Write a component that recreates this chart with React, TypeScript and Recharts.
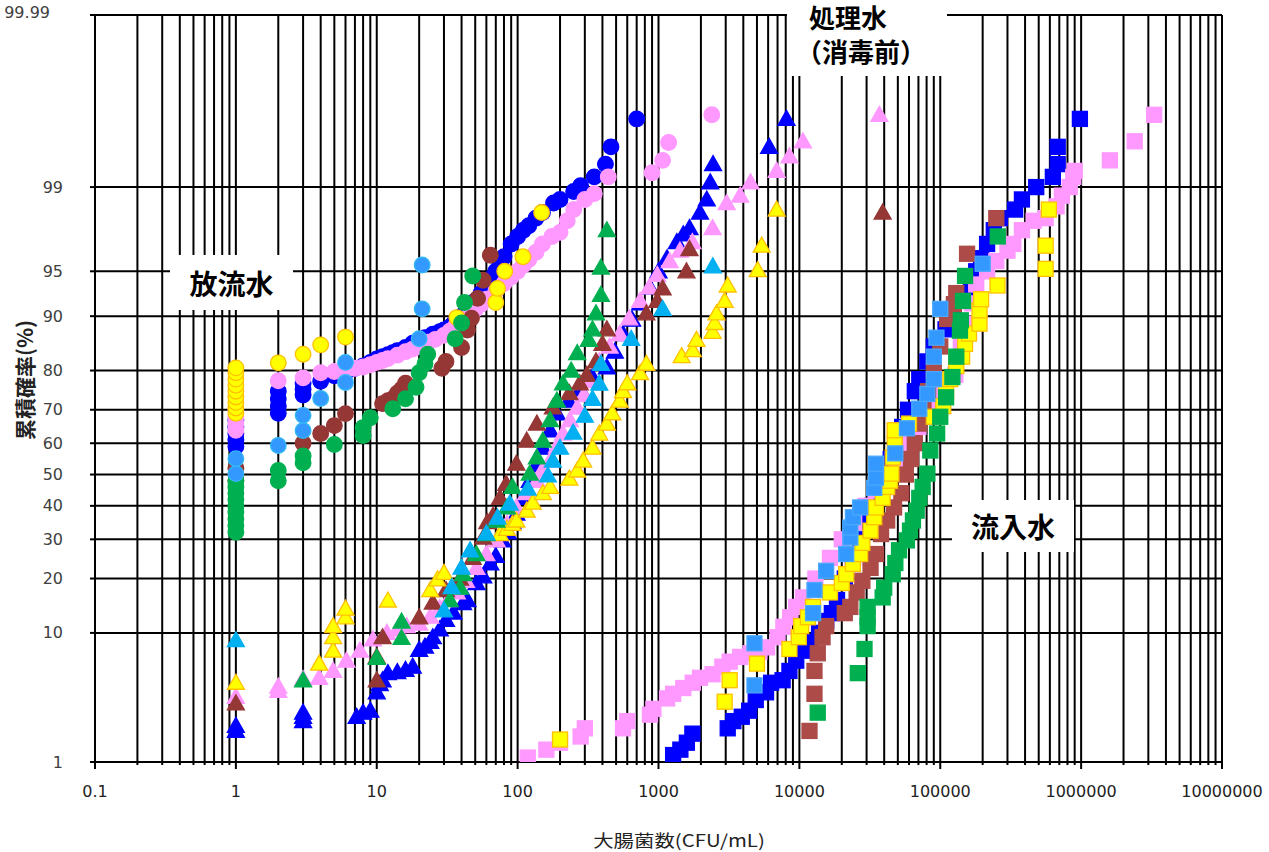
import React from "react";
import { ScatterChart, Scatter, XAxis, YAxis, CartesianGrid } from "recharts";

// each point: [CFU/mL, cumulative probability %]
type Pt = [number, number];

// ---- Axis ticks ----
const xMajorTicks = [0.1, 1, 10, 100, 1000, 10000, 100000, 1000000, 10000000];
const xMajorLabels = ["0.1", "1", "10", "100", "1000", "10000", "100000", "1000000", "10000000"];
const xMinorSteps = [1, 2, 3, 4, 5, 6, 7, 8, 9];
const yTickPercents = [1, 10, 20, 30, 40, 50, 60, 70, 80, 90, 95, 99, 99.99];
const yTickLabels = ["1", "10", "20", "30", "40", "50", "60", "70", "80", "90", "95", "99", "99.99"];

// ---- 放流水 (circles) ----
const effluentBlue: Pt[] = [
  [1, 59], [1, 61], [1, 63], [1, 65], [1, 67],
  [2, 69], [2, 71], [2, 73], [2, 75],
  [3, 74], [3, 75.5], [3, 77],
  [4, 77.5], [5, 78.8], [6, 79.5], [7, 80.5], [8, 81], [9, 81.8], [10, 82.5], [11, 83], [12, 83.4],
  [13, 83.8], [14, 84.2], [16, 84.8], [18, 85.6], [20, 86.2], [22, 86.6], [25, 87.2], [28, 87.6],
  [30, 87.9], [33, 88.4], [35, 88.9], [38, 89.5], [40, 90], [43, 90.6], [45, 91.1], [48, 91.6],
  [50, 92], [55, 92.9], [60, 93.7], [65, 94.4], [70, 95], [75, 95.6], [80, 96.1], [90, 96.9],
  [100, 97.3], [110, 97.6], [120, 97.8], [135, 98.1], [150, 98.3], [180, 98.6], [200, 98.7],
  [250, 98.9], [280, 99.03], [350, 99.2], [420, 99.4], [460, 99.6], [700, 99.8],
];
const effluentPink: Pt[] = [
  [1, 64], [1, 66], [1, 68], [1, 70], [2, 77.6], [3, 78.3], [4, 79.5], [5, 79.8],
  [6, 80], [7, 80.5], [8, 80.8], [9, 81.3], [10, 81.8], [11, 82.2], [12, 82.6], [14, 83.3],
  [16, 84], [18, 84.5], [20, 85], [23, 85.8], [26, 86.3], [30, 87], [33, 87.7], [36, 88.4],
  [40, 89], [45, 90], [50, 90.9], [55, 91.6], [60, 92.2], [70, 93.1], [80, 93.9], [90, 94.5],
  [100, 95], [110, 95.5], [120, 95.9], [135, 96.4], [150, 96.9], [175, 97.3], [200, 97.5],
  [225, 98], [250, 98.4], [300, 98.7], [350, 98.85], [440, 99.2],
  [900, 99.27], [1070, 99.45], [1180, 99.64], [2390, 99.82],
];
const effluentBrown: Pt[] = [
  [1, 48], [1, 50], [1, 52], [3, 60], [4, 63], [5, 65.4], [6, 68.9], [11, 71.7], [12, 72.5],
  [13, 73], [14, 74.5], [15, 75.5], [16, 77], [29, 80.5], [31, 82], [40, 84.8], [44, 87.9],
  [47, 89.7], [52, 92.3], [57, 94.2], [64, 96.2],
];
const effluentYellow: Pt[] = [
  [1, 69], [1, 70.5], [1, 72], [1, 73.5], [1, 75], [1, 76.5], [1, 78], [1, 79.5], [1, 80.6],
  [2, 81.7], [3, 83.5], [4, 85.3], [6, 86.7], [37, 89.8], [70, 91.8], [72, 93.4], [81, 95],
  [109, 96.1], [148, 98.3],
];
const effluentGreen: Pt[] = [
  [1, 32], [1, 34], [1, 36], [1, 38], [1, 40], [1, 42], [1, 44], [1, 46], [1, 48],
  [2, 48], [2, 51.3], [3, 53.8], [3, 56], [5, 59.6], [8, 62.4], [8, 64.8], [9, 67.7], [13, 70.3],
  [16, 73], [19, 76], [20, 79.5], [22, 81.5], [23, 83.5], [36, 86.4], [40, 89], [42, 91.8], [48, 94.6],
];
const effluentLightBlue: Pt[] = [
  [1, 50.3], [1, 55.1], [2, 59.3], [3, 63.9], [3, 68.4], [4, 73.1], [6, 77.2], [6, 81.8],
  [20, 86.4], [21, 91], [21, 95.5],
];

// ---- 処理水（消毒前） (triangles) ----
const treatedBlue: Pt[] = [
  [1, 1.9], [1, 2.1], [3, 2.3], [3, 2.5], [3, 2.7],
  [7.2, 2.5], [8, 2.7], [9, 2.8], [10, 3.9], [10.5, 4.5], [11, 4.8], [12, 5.4], [14, 5.5], [16, 5.7],
  [18, 6], [20, 7.8], [22, 8.2], [24, 8.8], [25, 9.4], [28, 10.5], [31, 12], [35, 13.2], [41, 14.9],
  [44, 15.5], [51, 19], [57, 20.5], [64, 23.6], [70, 25.5], [78, 29.7], [85, 32], [92, 35], [98, 37.6],
  [110, 42.5], [122, 48], [135, 53], [151, 58.6], [170, 64], [190, 69], [230, 72.5], [280, 75.5],
  [340, 78.5], [430, 80.7], [490, 84], [560, 87.2], [650, 89.5], [740, 91.7], [870, 93.5], [1000, 95],
  [1150, 96], [1350, 97], [1500, 97.4], [1660, 97.7], [1970, 98.3], [2200, 98.7], [2330, 99.1],
  [2440, 99.4], [6100, 99.6], [8100, 99.8],
];
const treatedPink: Pt[] = [
  [1, 3.6], [2, 4.0], [2, 4.3], [3, 4.9], [3.9, 5], [4.9, 5.6], [6.1, 6.6], [7.6, 7.7], [9.4, 9.1],
  [11.8, 10], [14, 10.5], [16.3, 11], [20, 11.4], [24, 12.5], [28, 14], [32, 15.5], [37, 17],
  [43, 19.5], [51, 22.5], [60, 26], [71, 29.7], [84, 34.5], [98, 39.5], [115, 44], [137, 48],
  [150, 51.5], [170, 54.5], [190, 59], [210, 63], [235, 67], [265, 70.6], [295, 74], [325, 77.5],
  [380, 82], [450, 85], [530, 87.2], [620, 89.7], [740, 92], [860, 93.5], [980, 94.7], [1200, 95.8],
  [1420, 96.5], [1740, 97], [2420, 97.7], [3050, 98.6], [3800, 98.8], [4500, 99.1],
  [6900, 99.3], [8500, 99.5], [10600, 99.65], [37000, 99.82],
];
const treatedBrown: Pt[] = [
  [1, 3.2], [10, 4.8], [10, 7], [11, 9.4], [20, 12.4], [25, 15], [31, 17.5], [39, 20], [48, 25],
  [57, 30.5], [61, 35], [67, 37], [75, 42.5], [83, 47], [98, 53.5], [116, 60.8], [137, 66],
  [178, 70.7], [233, 74.5], [276, 77], [310, 79], [360, 82], [400, 85.5], [430, 88], [820, 90.4],
  [980, 92], [1070, 93.4], [1580, 95], [1660, 96.6], [39000, 98.3],
];
const treatedYellow: Pt[] = [
  [1, 4.6], [3.9, 6.3], [4.9, 7.7], [4.9, 9.4], [4.9, 11], [6, 12.4], [6, 13.9], [12, 15.4],
  [24, 17.5], [27, 19.8], [30, 21.3],
  [75, 31.5], [84, 33], [92, 34.5], [98, 35.5], [116, 38.5], [128, 41], [151, 44], [170, 46],
  [233, 48.7], [265, 51.3], [292, 54.5], [340, 58.6], [380, 63], [430, 66], [470, 69], [530, 72.5],
  [560, 75], [600, 77], [740, 79.4], [820, 81.5], [1460, 83.1], [1750, 84.3], [1860, 86.2],
  [2420, 87.6], [2500, 89], [2580, 90.4], [2950, 92], [3100, 93.7], [5060, 95.1], [5400, 96.8],
  [6900, 98.4],
];
const treatedGreen: Pt[] = [
  [3, 4.8], [10, 6.9], [15, 9.3], [15, 11.7], [33, 15.5], [39, 18], [41, 21], [51, 26], [60, 31.5],
  [71, 35.5], [84, 39.5], [92, 46], [122, 50.3], [137, 55.5], [151, 60.8], [170, 67], [190, 72.5],
  [210, 77], [240, 80], [265, 83.7], [320, 86.2], [340, 88], [360, 90.4], [390, 92.7], [390, 95.3],
  [430, 97.6],
];
const treatedLightBlue: Pt[] = [
  [1, 9], [30, 13.6], [34, 18.1], [40, 22.6], [46, 27], [60, 31.7], [72, 36.4], [88, 40.7],
  [118, 45.5], [164, 49.7], [178, 54.5], [200, 58.6], [248, 63.3], [300, 68.3], [340, 73],
  [380, 76.9], [390, 81.5], [640, 86.4], [1070, 91], [2430, 95.4],
];

// ---- 流入水 (squares) ----
const influentBlue: Pt[] = [
  [1270, 1.16], [1430, 1.3], [1590, 1.5], [1740, 1.8], [3100, 2], [3400, 2.3], [3900, 2.5],
  [4400, 2.8], [4900, 3.4], [5800, 3.9], [6300, 4.6], [7600, 4.8], [8500, 5.6], [9500, 6.6],
  [10600, 7.7], [11800, 8.8], [13800, 10], [15500, 11.8], [17000, 13.1], [18500, 15.5],
  [21000, 20], [24000, 25], [27000, 30], [30000, 35], [33000, 40], [36500, 45], [40000, 50],
  [44500, 55], [49000, 60], [53700, 65], [59000, 70], [66000, 75], [71000, 78], [81000, 82],
  [90000, 85], [109000, 88], [124000, 90], [155000, 92.4], [165000, 93.8], [180000, 95],
  [195000, 96], [215000, 96.9], [240000, 97.6], [265000, 98.1], [340000, 98.4], [380000, 98.7],
  [480000, 99], [630000, 99.2], [682000, 99.4], [682000, 99.6], [980000, 99.8],
];
const influentPink: Pt[] = [
  [118, 1.1], [160, 1.3], [200, 1.5], [280, 1.7], [300, 2], [560, 2], [600, 2.3], [870, 2.6],
  [920, 2.9], [1150, 3.5], [1270, 3.8], [1500, 4.2], [1750, 4.6], [1970, 5], [2420, 5.3],
  [2840, 6], [3200, 6.5], [3800, 7], [4500, 7.4], [5200, 7.6], [5900, 8.1], [7000, 9.4],
  [7700, 10.9], [8600, 12.4], [9500, 14.2], [10600, 16], [13000, 20], [16500, 25], [20000, 30],
  [24500, 35], [29500, 40], [35000, 45], [41000, 50], [49000, 55], [58000, 60], [70000, 65],
  [85000, 70], [105000, 75], [128000, 79], [140000, 85], [155000, 88.9], [168000, 91.7],
  [180000, 93.8], [215000, 95], [250000, 95.8], [300000, 96.5], [330000, 96.9], [380000, 97.6],
  [460000, 98], [560000, 98.1], [670000, 98.5], [730000, 98.8], [830000, 99], [880000, 99.2],
  [900000, 99.3], [1600000, 99.45], [2400000, 99.65], [3300000, 99.82],
];
const influentBrown: Pt[] = [
  [11800, 1.9], [12800, 3.8], [12800, 5.6], [13500, 7.4], [14600, 9.4], [15500, 11], [21000, 13.1],
  [23000, 14.2], [25500, 17], [28000, 19.5], [32000, 22.5], [35000, 26], [38000, 31.5],
  [42000, 35.5], [47000, 39.5], [53000, 44], [57000, 50], [62000, 55], [66000, 60], [71000, 66],
  [76000, 70], [82000, 75], [90000, 80], [100000, 85], [112000, 89.6], [125000, 91.6],
  [130000, 92.9], [155000, 96.3], [250000, 98.1],
];
const influentYellow: Pt[] = [
  [200, 1.6], [2950, 3.3], [3200, 4.8], [5000, 6.3], [8500, 7.9], [9900, 9.4], [10300, 11],
  [11500, 12.4], [12500, 14.2], [16500, 17], [20000, 19], [21500, 21], [24000, 23.5], [27000, 26],
  [28000, 29], [32000, 32.5], [34000, 36.5], [35000, 39.5], [39000, 42.5], [42000, 46],
  [44000, 48], [45000, 50.3], [46000, 55.5], [47500, 60], [47500, 64], [60000, 66], [90000, 68],
  [105000, 71], [110000, 75], [118000, 78], [130000, 81], [143000, 83], [150000, 85.5],
  [160000, 87.3], [190000, 88.9], [190000, 90.8], [195000, 92.2], [255000, 93.7], [560000, 95.2],
  [560000, 96.8], [590000, 98.4],
];
const influentGreen: Pt[] = [
  [13500, 2.7], [26000, 5.4], [29000, 7.9], [30500, 11], [30500, 12.4], [30500, 14.2], [39000, 16],
  [40000, 18], [46000, 21], [48000, 23.7], [51000, 27], [58000, 29.7], [61000, 32.5], [64000, 35.5],
  [68000, 38.5], [71000, 42.5], [75000, 46], [81000, 50.3], [85000, 57.7], [95000, 63],
  [100000, 68], [110000, 73.4], [122000, 78.5], [130000, 83], [138000, 87.8], [140000, 89.4],
  [145000, 92], [150000, 94.6], [256000, 97.3],
];
const influentLightBlue: Pt[] = [
  [4800, 4.4], [4800, 8.6], [12500, 13.1], [12800, 17.5], [15500, 21.8], [21500, 26], [23000, 30.5],
  [23000, 33.4], [24000, 36.5], [27000, 39.5], [34000, 45.7], [35000, 49], [35000, 53.5],
  [48000, 56.8], [58000, 64.6], [71000, 70.3], [81000, 74.3], [90000, 78], [90000, 83],
  [94000, 86.6], [100000, 91], [200000, 95.6],
];

// ---- colors ----
const BLUE = "#0000FF";
const PINK = "#FF99FF";
const YELLOW = "#FFFF00";
const ORANGE = "#FFC000";
const BROWN = "#953735";
const BROWN_SQ = "#AC4B48";
const GREEN = "#00B050";
const LBLUE = "#3399FF";
const LBLUE_TRI = "#00B0F0";

// inverse normal CDF (Acklam) -> probability-paper y axis
function probit(p: number): number {
  const a = [-39.69683028665376, 220.9460984245205, -275.9285104469687, 138.357751867269, -30.66479806614716, 2.506628277459239];
  const b = [-54.47609879822406, 161.5858368580409, -155.6989798598866, 66.80131188771972, -13.28068155288572];
  const c = [-0.007784894002430293, -0.3223964580411365, -2.400758277161838, -2.549732539343734, 4.374664141464968, 2.938163982698783];
  const d = [0.007784695709041462, 0.3224671290700398, 2.445134137142996, 3.754408661907416];
  const pl = 0.02425;
  if (p < pl) {
    const q = Math.sqrt(-2 * Math.log(p));
    return (((((c[0] * q + c[1]) * q + c[2]) * q + c[3]) * q + c[4]) * q + c[5]) / ((((d[0] * q + d[1]) * q + d[2]) * q + d[3]) * q + 1);
  }
  if (p <= 1 - pl) {
    const q = p - 0.5;
    const r = q * q;
    return ((((((a[0] * r + a[1]) * r + a[2]) * r + a[3]) * r + a[4]) * r + a[5]) * q) / (((((b[0] * r + b[1]) * r + b[2]) * r + b[3]) * r + b[4]) * r + 1);
  }
  const q = Math.sqrt(-2 * Math.log(1 - p));
  return -(((((c[0] * q + c[1]) * q + c[2]) * q + c[3]) * q + c[4]) * q + c[5]) / ((((d[0] * q + d[1]) * q + d[2]) * q + d[3]) * q + 1);
}

const toRows = (pts: Pt[]) => pts.map(([x, p]) => ({ x, z: probit(p / 100) }));

type Kind = "circle" | "triangle" | "square";

const makeShape = (kind: Kind, fill: string, stroke: string) => (props: any) => {
  const { cx, cy } = props;
  if (cx == null || cy == null) return <g />;
  if (kind === "circle") {
    return <circle cx={cx} cy={cy} r={7.8} fill={fill} stroke={stroke} strokeWidth={1.3} />;
  }
  if (kind === "triangle") {
    return (
      <polygon
        points={`${cx},${cy - 8.5} ${cx + 8.5},${cy + 6.5} ${cx - 8.5},${cy + 6.5}`}
        fill={fill}
        stroke={stroke}
        strokeWidth={1.3}
      />
    );
  }
  return <rect x={cx - 7.5} y={cy - 7.5} width={15} height={15} fill={fill} stroke={stroke} strokeWidth={1.3} />;
};

const seriesList: { name: string; data: Pt[]; kind: Kind; fill: string; stroke: string }[] = [
  { name: "流入水 A", data: influentBlue, kind: "square", fill: BLUE, stroke: BLUE },
  { name: "流入水 B", data: influentPink, kind: "square", fill: PINK, stroke: PINK },
  { name: "流入水 C", data: influentBrown, kind: "square", fill: BROWN_SQ, stroke: BROWN_SQ },
  { name: "流入水 D", data: influentYellow, kind: "square", fill: YELLOW, stroke: ORANGE },
  { name: "流入水 E", data: influentGreen, kind: "square", fill: GREEN, stroke: GREEN },
  { name: "流入水 F", data: influentLightBlue, kind: "square", fill: LBLUE, stroke: "#4AA8FF" },
  { name: "処理水 A", data: treatedBlue, kind: "triangle", fill: BLUE, stroke: BLUE },
  { name: "処理水 B", data: treatedPink, kind: "triangle", fill: PINK, stroke: PINK },
  { name: "処理水 C", data: treatedBrown, kind: "triangle", fill: BROWN, stroke: BROWN },
  { name: "処理水 D", data: treatedYellow, kind: "triangle", fill: YELLOW, stroke: ORANGE },
  { name: "処理水 E", data: treatedGreen, kind: "triangle", fill: GREEN, stroke: GREEN },
  { name: "処理水 F", data: treatedLightBlue, kind: "triangle", fill: LBLUE_TRI, stroke: LBLUE_TRI },
  { name: "放流水 A", data: effluentBlue, kind: "circle", fill: BLUE, stroke: BLUE },
  { name: "放流水 B", data: effluentPink, kind: "circle", fill: PINK, stroke: PINK },
  { name: "放流水 C", data: effluentBrown, kind: "circle", fill: BROWN, stroke: BROWN },
  { name: "放流水 D", data: effluentYellow, kind: "circle", fill: YELLOW, stroke: ORANGE },
  { name: "放流水 E", data: effluentGreen, kind: "circle", fill: GREEN, stroke: GREEN },
  { name: "放流水 F", data: effluentLightBlue, kind: "circle", fill: LBLUE, stroke: "#33B8F5" },
];

// grid / tick values
const xGridValues = xMajorTicks.slice(0, -1).flatMap((m) => xMinorSteps.map((s) => m * s)).concat([10000000]);
const yTickZ = yTickPercents.map((p) => probit(p / 100));
const yDomain: [number, number] = [yTickZ[0], yTickZ[yTickZ.length - 1]];

const FONT = "'DejaVu Sans', sans-serif";
const CJK = "'Noto Sans CJK JP', sans-serif";

const XTick = (props: any) => {
  const { x, y, payload } = props;
  const lg = Math.log10(payload.value);
  const major = Math.abs(lg - Math.round(lg)) < 1e-6;
  const idx = Math.round(lg) + 1;
  return (
    <g>
      <line x1={x} y1={y} x2={x} y2={y + (major ? 7 : 3)} stroke="#000" strokeWidth={2} />
      {major && (
        <text x={x} y={y + 29} textAnchor="middle" dominantBaseline="central" fontFamily={FONT} fontSize={16} fill="#222">
          {xMajorLabels[idx]}
        </text>
      )}
    </g>
  );
};

const YTick = (props: any) => {
  const { x, y, index } = props;
  const label = yTickLabels[index];
  const top = label === "99.99";
  return (
    <g>
      <line x1={x - 5} y1={y} x2={x} y2={y} stroke="#000" strokeWidth={2} />
      <text
        x={top ? x - 45 : x - 32}
        y={top ? y - 3 : y}
        textAnchor="end"
        dominantBaseline="central"
        fontFamily={FONT}
        fontSize={16}
        fill="#404040"
      >
        {label}
      </text>
    </g>
  );
};

const boxStyle: React.CSSProperties = {
  position: "absolute",
  background: "#fff",
  display: "flex",
  alignItems: "center",
  justifyContent: "center",
  fontFamily: CJK,
  fontWeight: 700,
  color: "#000",
  whiteSpace: "nowrap",
};

export default function App() {
  return (
    <div style={{ position: "absolute", left: 0, top: 0, width: 1269, height: 852, background: "#fff" }}>
      <ScatterChart width={1269} height={852} margin={{ top: 15, right: 47, bottom: 0, left: 0 }}>
        <CartesianGrid
          stroke="#000"
          strokeWidth={2}
          verticalValues={xGridValues}
          horizontalValues={yTickZ}
        />
        <XAxis
          type="number"
          dataKey="x"
          scale="log"
          domain={[0.1, 10000000]}
          ticks={xGridValues}
          interval={0}
          allowDataOverflow
          height={90}
          tickSize={0}
          tickMargin={0}
          tick={<XTick />}
          axisLine={{ stroke: "#000", strokeWidth: 2 }}
        />
        <YAxis
          type="number"
          dataKey="z"
          domain={yDomain}
          ticks={yTickZ}
          interval={0}
          allowDataOverflow
          width={95}
          tickSize={0}
          tickMargin={0}
          tick={<YTick />}
          axisLine={{ stroke: "#000", strokeWidth: 2 }}
        />
        {seriesList.map((s) => (
          <Scatter
            key={s.name}
            name={s.name}
            data={toRows(s.data)}
            shape={makeShape(s.kind, s.fill, s.stroke)}
            isAnimationActive={false}
          />
        ))}
      </ScatterChart>

      {/* callouts */}
      <div style={{ ...boxStyle, left: 170, top: 255, width: 123, height: 55, fontSize: 28 }}>放流水</div>
      <div style={{ ...boxStyle, left: 787, top: 0, width: 160, height: 76, display: "block" }}>
        <div style={{ position: "absolute", left: 22, top: 2, fontSize: 26, lineHeight: "30px" }}>処理水</div>
        <div style={{ position: "absolute", left: 9, top: 36, fontSize: 26, lineHeight: "30px" }}>（消毒前）</div>
      </div>
      <div style={{ ...boxStyle, left: 952, top: 500, width: 122, height: 52, fontSize: 28 }}>流入水</div>

      {/* axis titles */}
      <div
        style={{
          position: "absolute",
          left: 24,
          top: 380,
          transform: "translate(-50%, -50%) rotate(-90deg)",
          fontFamily: CJK,
          fontWeight: 700,
          fontSize: 21,
          lineHeight: "22px",
          whiteSpace: "nowrap",
          color: "#222",
        }}
      >
        累積確率(%)
      </div>
      <div
        style={{
          position: "absolute",
          left: 679,
          top: 840,
          transform: "translate(-50%, -50%) scaleX(1.2)",
          fontFamily: CJK,
          fontSize: 17,
          lineHeight: "20px",
          whiteSpace: "nowrap",
          color: "#222",
        }}
      >
        大腸菌数(CFU/mL)
      </div>
    </div>
  );
}
